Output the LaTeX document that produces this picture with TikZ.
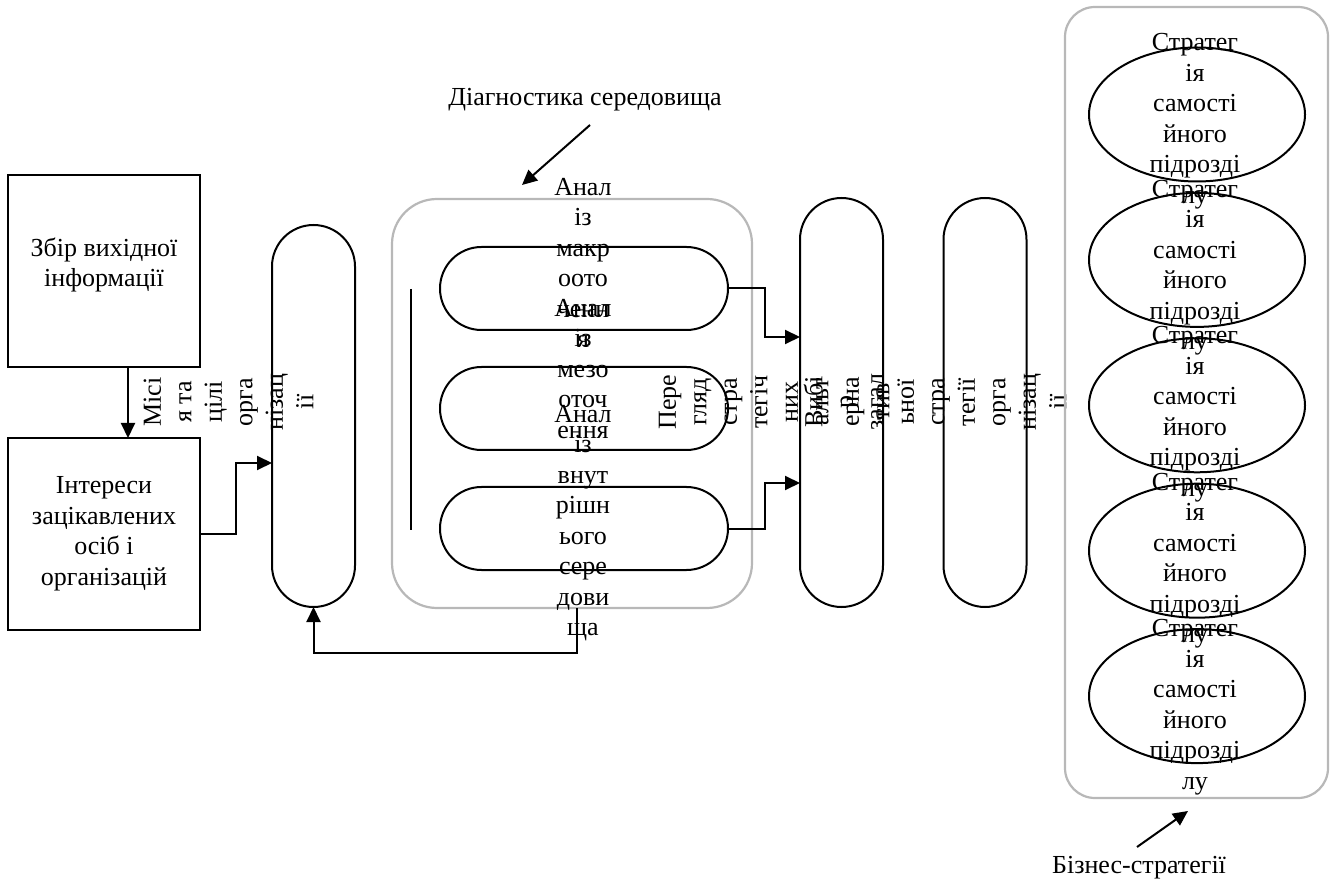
\documentclass[tikz,border=0pt]{standalone}
\usepackage{fontspec}
\setmainfont{Liberation Serif}
\usetikzlibrary{arrows.meta,shapes.geometric,calc}
\begin{document}
\begin{tikzpicture}[x=1pt,y=-1pt,
  every node/.style={font=\fontsize{26}{30.5}\selectfont, inner sep=0pt, outer sep=0pt},
  ln/.style={line width=2pt, draw=black},
  gr/.style={line width=2.2pt, draw=black!28},
  arr/.style={ln, -{Triangle[length=15pt,width=14pt]}},
  boxn/.style={ln, rectangle, minimum width=192pt, minimum height=192pt},
  pillv/.style={ln, rectangle, rounded corners=41.5pt, minimum width=83pt},
  pillh/.style={ln, rectangle, rounded corners=41.5pt, minimum width=288pt, minimum height=83pt},
  strat/.style={ln, ellipse, minimum width=216pt, minimum height=134pt},
  txt/.style={align=center},
  vtxt/.style={align=center, rotate=90},
]
\fill[white] (0,0) rectangle (1334,890);
\useasboundingbox (0,0) rectangle (1334,890);

% left boxes
\node[boxn] (b1) at (104,271) {};
\node[boxn] (b2) at (104,534) {};
\node[txt] (t1) at (104,265) {Збір вихідної\\інформації};
\node[txt] (t2) at (104,534) {Інтереси\\зацікавлених\\осіб і\\організацій};

% mission pill
\node[pillv, minimum height=382pt] (org) at (313.5,416) {};
\node[vtxt] (torg) at (228.5,402) {Місі\\я та\\цілі\\орга\\нізац\\ії};

% diagnostics group
\node[gr, rectangle, rounded corners=45pt, minimum width=360pt, minimum height=409pt] (diag) at (572,403.5) {};
\node[pillh] (p1) at (584,288.5) {};
\node[pillh] (p2) at (584,408.5) {};
\node[pillh] (p3) at (584,528.5) {};
\coordinate (va) at (411,289);
\coordinate (vb) at (411,530);
\draw[ln] (va) -- (vb);
\node[txt] (tp1) at (583,263) {Анал\\із\\макр\\оото\\ченн\\я};
\node[txt] (tp2) at (583,369) {Анал\\із\\мезо\\оточ\\ення};
\node[txt] (tp3) at (583,523) {Анал\\із\\внут\\рішн\\ього\\сере\\дови\\ща};

\node (diaglbl) at (585,100) {Діагностика середовища};
\coordinate (dstart) at (590,125);
\coordinate (dtip) at (522,185);
\draw[arr] (dstart) -- (dtip);

% strategy pills
\node[pillv, minimum height=409pt] (p4) at (841.5,402.5) {};
\node[pillv, minimum height=409pt] (p5) at (985,402.5) {};
\node[vtxt] (tp4) at (774,402) {Пере\\гляд\\стра\\тегіч\\них\\альт\\ерна\\тив};
\node[vtxt] (tp5) at (935,402) {Вибі\\р\\загал\\ьної\\стра\\тегії\\орга\\нізац\\ії};

% business strategies
\node[gr, rectangle, rounded corners=30pt, minimum width=263pt, minimum height=791pt] (biz) at (1196.5,402.5) {};
\foreach \k in {0,...,4}{
  \node[strat] (e\k) at (1197,114.5+145.4*\k) {};
}
\foreach \k in {0,...,4}{
  \node[txt] (te\k) at (1195,121+146.5*\k) {Стратег\\ія\\самості\\йного\\підрозді\\лу};
}
\node (bizlbl) at (1139,868) {Бізнес-стратегії};
\coordinate (bstart) at (1137,847);
\coordinate (btip) at (1188,811);
\draw[arr] (bstart) -- (btip);

% connectors
\draw[arr] ($(b1.south)+(24,0)$) -- ($(b2.north)+(24,0)$);
\draw[arr] (b2.east) -- ++(36,0) |- ($(org.west)+(0,47)$);
\draw[arr] ($(diag.south)+(5,0)$) -- ++(0,45) -| (org.south);
\draw[arr] (p1.east) -- ++(37,0) |- ($(p4.west)+(0,-65.5)$);
\draw[arr] (p3.east) -- ++(37,0) |- ($(p4.west)+(0,80.5)$);
\end{tikzpicture}
\end{document}
